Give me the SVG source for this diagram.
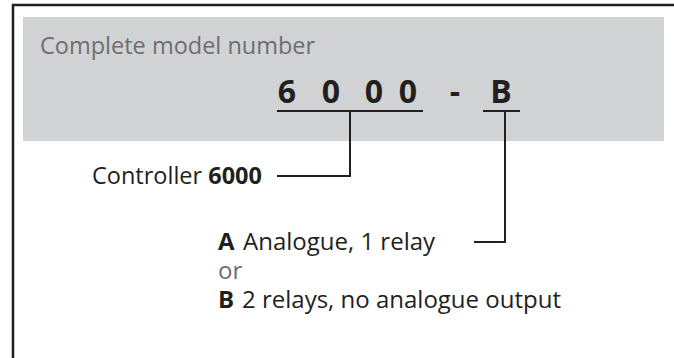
<svg xmlns="http://www.w3.org/2000/svg" width="674" height="358" viewBox="0 0 674 358">
  <style>
    .t { font-family: "Open Sans", "Liberation Sans", sans-serif; fill: #231f20; }
    .g { fill: #6d6e71; }
    .b { font-weight: bold; }
    .ln { stroke: #231f20; stroke-width: 2; fill: none; }
  </style>
  <rect x="0" y="0" width="674" height="358" fill="#ffffff"/>
  <g id="frame">
    <path d="M13 358 V5 H674" stroke="#231f20" stroke-width="2.5" fill="none"/>
  </g>
  <g id="model-box">
    <rect x="23" y="17" width="641" height="124" fill="#d1d2d4"/>
    <text class="t g" x="40" y="54" font-size="23.5">Complete model number</text>
    <g class="t b" font-size="32" text-anchor="middle">
      <text x="287" y="103">6</text>
      <text x="331" y="103">0</text>
      <text x="374" y="103">0</text>
      <text x="408" y="103">0</text>
      <text x="455" y="103">-</text>
      <text x="501" y="103">B</text>
    </g>
  </g>
  <g id="connectors">
    <path class="ln" d="M277 111 H423"/>
    <path class="ln" d="M483 111 H520"/>
    <path class="ln" d="M350 111 V176 H277"/>
    <path class="ln" d="M505 111 V242 H474"/>
  </g>
  <g id="controller">
    <text class="t" x="92" y="184" font-size="23.5">Controller <tspan class="b">6000</tspan></text>
  </g>
  <g id="option-a">
    <text class="t" x="218" y="250" font-size="24"><tspan class="b">A</tspan><tspan x="243">Analogue, 1 relay</tspan></text>
  </g>
  <g id="or">
    <text class="t g" x="218" y="279" font-size="24">or</text>
  </g>
  <g id="option-b">
    <text class="t" x="218" y="308" font-size="24"><tspan class="b">B</tspan><tspan x="242">2 relays, no analogue output</tspan></text>
  </g>
</svg>
